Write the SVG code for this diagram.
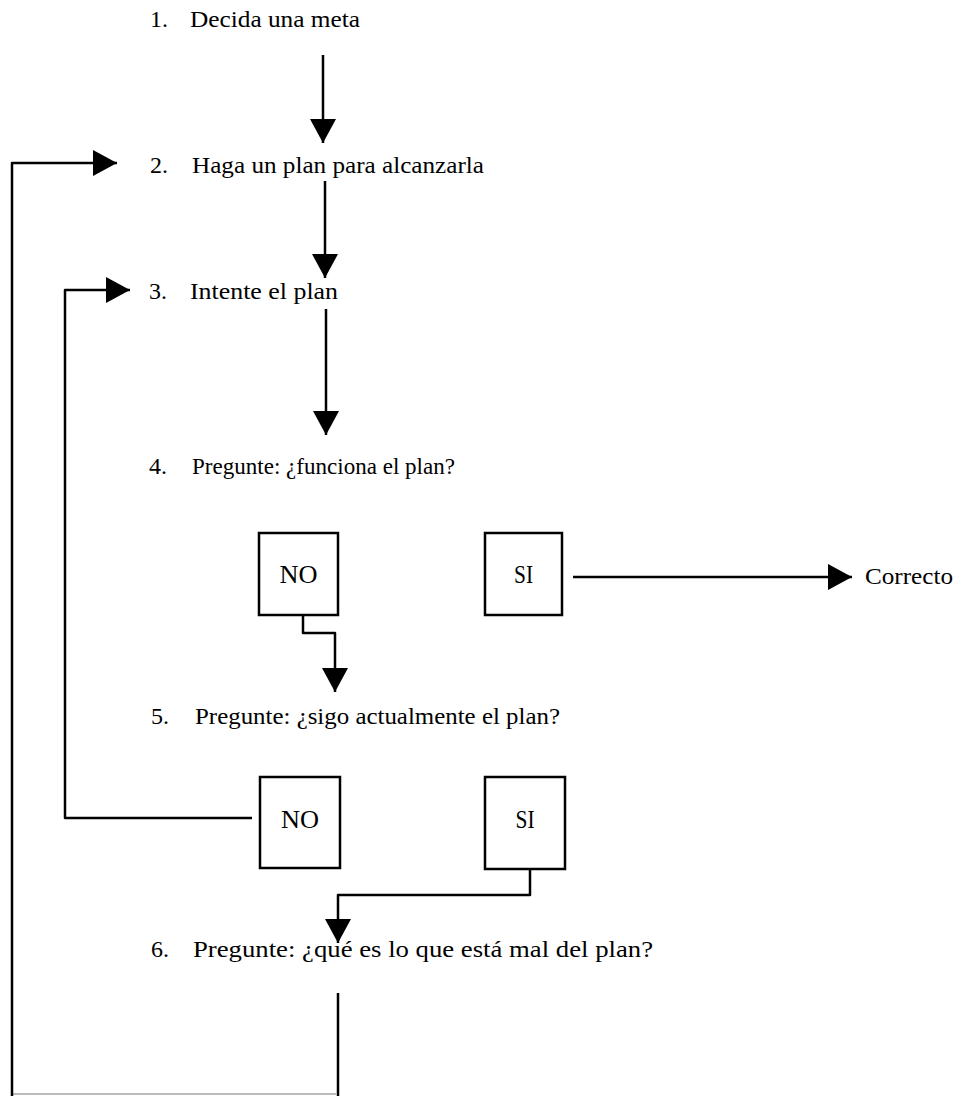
<svg xmlns="http://www.w3.org/2000/svg" width="963" height="1097" viewBox="0 0 963 1097">
<style>
  .t { font-family: "Liberation Serif", "Times New Roman", serif; font-size: 24px; fill: #000; }
  .b { font-family: "Liberation Serif", "Times New Roman", serif; font-size: 25px; fill: #000; text-anchor: middle; }
  .box { fill: #fff; stroke: #000; stroke-width: 2.5; }
  .ln { fill: none; stroke: #000; stroke-width: 2.5; stroke-linejoin: round; }
  .faint { fill: none; stroke: #bbb; stroke-width: 2; }
</style>
<defs>
  <marker id="ah" viewBox="0 0 24 26" refX="24" refY="13" markerWidth="24" markerHeight="26" markerUnits="userSpaceOnUse" orient="auto">
    <path d="M0,0 L24,13 L0,26 Z" fill="#000"/>
  </marker>
</defs>
<rect width="963" height="1097" fill="#fff"/>

<g id="connectors">
  <path class="ln" d="M323,55 V143" marker-end="url(#ah)"/>
  <path class="ln" d="M325,181 V278" marker-end="url(#ah)"/>
  <path class="ln" d="M326,309 V435" marker-end="url(#ah)"/>
  <path class="ln" d="M303,615 V633 H335 V692" marker-end="url(#ah)"/>
  <path class="ln" d="M573,577 H852" marker-end="url(#ah)"/>
  <path class="ln" d="M252,818 H65 V290 H130" marker-end="url(#ah)"/>
  <path class="ln" d="M530,870 V895 H338 V943" marker-end="url(#ah)"/>
  <path class="ln" d="M338,993 V1096"/>
  <path class="faint" d="M12,1094 H337"/>
  <path class="ln" d="M12,1096 V163 H117" marker-end="url(#ah)"/>
</g>

<g id="n1">
  <text class="t" x="150" y="27">1.</text>
  <text class="t" x="190" y="27" textLength="170" lengthAdjust="spacingAndGlyphs">Decida una meta</text>
</g>
<g id="n2">
  <text class="t" x="150" y="173">2.</text>
  <text class="t" x="192" y="173" textLength="292" lengthAdjust="spacingAndGlyphs">Haga un plan para alcanzarla</text>
</g>
<g id="n3">
  <text class="t" x="149" y="299">3.</text>
  <text class="t" x="190" y="299" textLength="148" lengthAdjust="spacingAndGlyphs">Intente el plan</text>
</g>
<g id="n4">
  <text class="t" x="149" y="474">4.</text>
  <text class="t" x="192" y="474" textLength="263" lengthAdjust="spacingAndGlyphs">Pregunte: ¿funciona el plan?</text>
</g>
<g id="no1">
  <rect class="box" x="259" y="533" width="79" height="82"/>
  <text class="b" x="298.5" y="583" textLength="38" lengthAdjust="spacingAndGlyphs">NO</text>
</g>
<g id="si1">
  <rect class="box" x="485" y="533" width="77" height="82"/>
  <text class="b" x="523.5" y="583" textLength="19" lengthAdjust="spacingAndGlyphs">SI</text>
</g>
<g id="correcto">
  <text class="t" x="865" y="584" textLength="88" lengthAdjust="spacingAndGlyphs">Correcto</text>
</g>
<g id="n5">
  <text class="t" x="151" y="724">5.</text>
  <text class="t" x="195" y="724" textLength="365" lengthAdjust="spacingAndGlyphs">Pregunte: ¿sigo actualmente el plan?</text>
</g>
<g id="no2">
  <rect class="box" x="260" y="777" width="80" height="91"/>
  <text class="b" x="300" y="828" textLength="38" lengthAdjust="spacingAndGlyphs">NO</text>
</g>
<g id="si2">
  <rect class="box" x="485" y="777" width="80" height="92"/>
  <text class="b" x="525" y="828" textLength="19" lengthAdjust="spacingAndGlyphs">SI</text>
</g>
<g id="n6">
  <text class="t" x="151" y="957">6.</text>
  <text class="t" x="193" y="957" textLength="460" lengthAdjust="spacingAndGlyphs">Pregunte: ¿qué es lo que está mal del plan?</text>
</g>
</svg>
